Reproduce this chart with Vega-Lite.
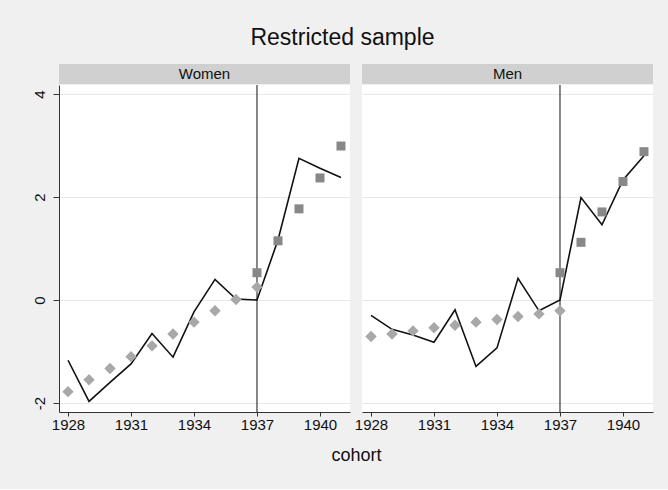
{
  "$schema": "https://vega.github.io/schema/vega-lite/v6.json",
  "background": "#f0f0f0",
  "padding": {"left": 32, "top": 27, "right": 15, "bottom": 25},
  "title": {"text": "Restricted sample", "fontSize": 23, "fontWeight": "normal", "font": "Liberation Sans", "color": "#111111", "anchor": "middle", "offset": 14},
  "datasets": {
    "est": [
      {"sex": "Women", "cohort": 1928, "fit": -1.17, "pre": -1.78, "post": null},
      {"sex": "Women", "cohort": 1929, "fit": -1.97, "pre": -1.55, "post": null},
      {"sex": "Women", "cohort": 1930, "fit": -1.60, "pre": -1.33, "post": null},
      {"sex": "Women", "cohort": 1931, "fit": -1.24, "pre": -1.10, "post": null},
      {"sex": "Women", "cohort": 1932, "fit": -0.65, "pre": -0.89, "post": null},
      {"sex": "Women", "cohort": 1933, "fit": -1.11, "pre": -0.66, "post": null},
      {"sex": "Women", "cohort": 1934, "fit": -0.23, "pre": -0.43, "post": null},
      {"sex": "Women", "cohort": 1935, "fit": 0.40, "pre": -0.21, "post": null},
      {"sex": "Women", "cohort": 1936, "fit": 0.02, "pre": 0.01, "post": null},
      {"sex": "Women", "cohort": 1937, "fit": 0.00, "pre": 0.25, "post": 0.53},
      {"sex": "Women", "cohort": 1938, "fit": 1.165, "pre": null, "post": 1.15},
      {"sex": "Women", "cohort": 1939, "fit": 2.75, "pre": null, "post": 1.77},
      {"sex": "Women", "cohort": 1940, "fit": 2.56, "pre": null, "post": 2.37},
      {"sex": "Women", "cohort": 1941, "fit": 2.38, "pre": null, "post": 2.99},
      {"sex": "Men", "cohort": 1928, "fit": -0.30, "pre": -0.71, "post": null},
      {"sex": "Men", "cohort": 1929, "fit": -0.57, "pre": -0.66, "post": null},
      {"sex": "Men", "cohort": 1930, "fit": -0.68, "pre": -0.60, "post": null},
      {"sex": "Men", "cohort": 1931, "fit": -0.82, "pre": -0.54, "post": null},
      {"sex": "Men", "cohort": 1932, "fit": -0.19, "pre": -0.49, "post": null},
      {"sex": "Men", "cohort": 1933, "fit": -1.29, "pre": -0.43, "post": null},
      {"sex": "Men", "cohort": 1934, "fit": -0.93, "pre": -0.38, "post": null},
      {"sex": "Men", "cohort": 1935, "fit": 0.42, "pre": -0.32, "post": null},
      {"sex": "Men", "cohort": 1936, "fit": -0.21, "pre": -0.27, "post": null},
      {"sex": "Men", "cohort": 1937, "fit": 0.00, "pre": -0.21, "post": 0.53},
      {"sex": "Men", "cohort": 1938, "fit": 1.99, "pre": null, "post": 1.12},
      {"sex": "Men", "cohort": 1939, "fit": 1.46, "pre": null, "post": 1.71},
      {"sex": "Men", "cohort": 1940, "fit": 2.33, "pre": null, "post": 2.30},
      {"sex": "Men", "cohort": 1941, "fit": 2.80, "pre": null, "post": 2.88}
    ],
    "cut": [{"cohort": 1937}]
  },
  "config": {
    "font": "Liberation Sans",
    "view": {"fill": "white", "stroke": null},
    "axis": {
      "labelFont": "Liberation Sans", "labelFontSize": 15, "labelColor": "#111111",
      "domainColor": "#333333", "tickColor": "#333333", "tickSize": 5, "labelPadding": 2,
      "gridColor": "#e8e8e8", "titleFont": "Liberation Sans", "titleFontWeight": "normal", "titleColor": "#111111"
    }
  },
  "columns": 2,
  "spacing": {"row": 1, "column": 12},
  "bounds": "flush",
  "concat": [
    {
      "width": 291, "height": 20,
      "view": {"fill": "#d0d0d0", "stroke": null},
      "data": {"values": [{"label": "Women"}]},
      "mark": {"type": "text", "fontSize": 15, "font": "Liberation Sans", "color": "#111111"},
      "encoding": {"text": {"field": "label", "type": "nominal"}}
    },
    {
      "width": 291, "height": 20,
      "view": {"fill": "#d0d0d0", "stroke": null},
      "data": {"values": [{"label": "Men"}]},
      "mark": {"type": "text", "fontSize": 15, "font": "Liberation Sans", "color": "#111111"},
      "encoding": {"text": {"field": "label", "type": "nominal"}}
    },
    {
      "width": 291, "height": 327,
      "encoding": {
        "x": {"field": "cohort", "type": "quantitative",
          "scale": {"domain": [1927.57, 1941.43], "nice": false, "zero": false},
          "axis": {"values": [1928, 1931, 1934, 1937, 1940], "format": "d", "grid": false, "tickSize": 4, "labelPadding": 1, "title": "cohort", "titleFontSize": 18, "titleX": 297, "titlePadding": 14}}
      },
      "layer": [
        {
          "data": {"name": "cut"},
          "mark": {"type": "rule", "color": "#111111", "strokeWidth": 1},
          "encoding": {"x": {"field": "cohort", "type": "quantitative"}}
        },
        {
          "data": {"name": "est"},
          "transform": [{"filter": "datum.sex === 'Women'"}],
          "mark": {"type": "line", "color": "#111111", "strokeWidth": 1.6},
          "encoding": {
            "y": {"field": "fit", "type": "quantitative",
              "scale": {"domain": [-2.175, 4.175], "nice": false, "zero": false},
              "axis": {"values": [-2, 0, 2, 4], "labelExpr": "'' + datum.value", "grid": true, "title": null, "labelAngle": -90, "labelPadding": 6, "tickSize": 6}}
          }
        },
        {
          "data": {"name": "est"},
          "transform": [{"filter": "datum.sex === 'Women'"}],
          "mark": {"type": "point", "shape": "diamond", "filled": true, "size": 130, "color": "#a8a8a8", "opacity": 1},
          "encoding": {
            "y": {"field": "pre", "type": "quantitative", "scale": {"domain": [-2.175, 4.175], "nice": false, "zero": false}}
          }
        },
        {
          "data": {"name": "est"},
          "transform": [{"filter": "datum.sex === 'Women'"}],
          "mark": {"type": "point", "shape": "square", "filled": true, "size": 81, "color": "#888888", "opacity": 1},
          "encoding": {
            "y": {"field": "post", "type": "quantitative", "scale": {"domain": [-2.175, 4.175], "nice": false, "zero": false}}
          }
        }
      ]
    },
    {
      "width": 291, "height": 327,
      "encoding": {
        "x": {"field": "cohort", "type": "quantitative",
          "scale": {"domain": [1927.57, 1941.43], "nice": false, "zero": false},
          "axis": {"values": [1928, 1931, 1934, 1937, 1940], "format": "d", "grid": false, "tickSize": 4, "labelPadding": 1, "title": null}}
      },
      "layer": [
        {
          "data": {"name": "cut"},
          "mark": {"type": "rule", "color": "#111111", "strokeWidth": 1},
          "encoding": {"x": {"field": "cohort", "type": "quantitative"}}
        },
        {
          "data": {"name": "est"},
          "transform": [{"filter": "datum.sex === 'Men'"}],
          "mark": {"type": "line", "color": "#111111", "strokeWidth": 1.6},
          "encoding": {
            "y": {"field": "fit", "type": "quantitative",
              "scale": {"domain": [-2.175, 4.175], "nice": false, "zero": false},
              "axis": {"values": [-2, 0, 2, 4], "grid": true, "title": null, "labels": false, "ticks": false, "domain": false}}
          }
        },
        {
          "data": {"name": "est"},
          "transform": [{"filter": "datum.sex === 'Men'"}],
          "mark": {"type": "point", "shape": "diamond", "filled": true, "size": 130, "color": "#a8a8a8", "opacity": 1},
          "encoding": {
            "y": {"field": "pre", "type": "quantitative", "scale": {"domain": [-2.175, 4.175], "nice": false, "zero": false}}
          }
        },
        {
          "data": {"name": "est"},
          "transform": [{"filter": "datum.sex === 'Men'"}],
          "mark": {"type": "point", "shape": "square", "filled": true, "size": 81, "color": "#888888", "opacity": 1},
          "encoding": {
            "y": {"field": "post", "type": "quantitative", "scale": {"domain": [-2.175, 4.175], "nice": false, "zero": false}}
          }
        }
      ]
    }
  ]
}
